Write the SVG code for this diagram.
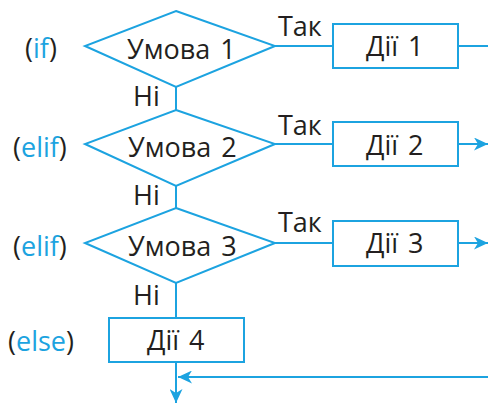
<svg xmlns="http://www.w3.org/2000/svg" width="488" height="403" viewBox="0 0 488 403">
  <style>
    .shape { fill: #ffffff; stroke: #1ca3e0; stroke-width: 2; }
    .line { fill: none; stroke: #1ca3e0; stroke-width: 2; }
    .t { font-family: "Open Sans", "Noto Sans", "DejaVu Sans", sans-serif; font-size: 27px; fill: #231f20; word-spacing: 3px; }
    .k { fill: #1ca3e0; }
  </style>
  <defs>
    <marker id="arrow" viewBox="0 0 14 13" refX="14" refY="6.5" markerWidth="14" markerHeight="13" markerUnits="userSpaceOnUse" orient="auto">
      <path d="M0,0 L14,6.5 L0,13 L4,6.5 Z" fill="#1ca3e0"/>
    </marker>
  </defs>
  <rect width="488" height="403" fill="#ffffff"/>

  <g id="connectors">
    <line class="line" x1="176" y1="87" x2="176" y2="110"/>
    <line class="line" x1="176" y1="186" x2="176" y2="208"/>
    <line class="line" x1="176" y1="283" x2="176" y2="318"/>
    <line class="line" x1="176" y1="362" x2="176" y2="403" marker-end="url(#arrow)"/>
    <line class="line" x1="275" y1="46" x2="333" y2="46"/>
    <line class="line" x1="275" y1="144" x2="333" y2="144"/>
    <line class="line" x1="275" y1="243" x2="333" y2="243"/>
    <line class="line" x1="458" y1="46" x2="488" y2="46"/>
    <line class="line" x1="458" y1="144" x2="488" y2="144" marker-end="url(#arrow)"/>
    <line class="line" x1="458" y1="243" x2="488" y2="243" marker-end="url(#arrow)"/>
    <line class="line" x1="488" y1="377" x2="178" y2="377" marker-end="url(#arrow)"/>
    <text class="t" x="278" y="36">Так</text>
    <text class="t" x="278" y="135">Так</text>
    <text class="t" x="278" y="232">Так</text>
    <text class="t" x="133" y="106">Ні</text>
    <text class="t" x="133" y="205">Ні</text>
    <text class="t" x="133" y="305">Ні</text>
  </g>

  <g id="cond1">
    <polygon class="shape" points="176,11 275,46 176,87 85,46"/>
    <text class="t" x="127" y="59">Умова 1</text>
    <text class="t" x="25" y="58">(<tspan class="k">if</tspan>)</text>
  </g>
  <g id="cond2">
    <polygon class="shape" points="176,110 275,144 176,186 85,144"/>
    <text class="t" x="128" y="157">Умова 2</text>
    <text class="t" x="13" y="157">(<tspan class="k">elif</tspan>)</text>
  </g>
  <g id="cond3">
    <polygon class="shape" points="176,208 275,243 176,283 85,243"/>
    <text class="t" x="128" y="256">Умова 3</text>
    <text class="t" x="13" y="256">(<tspan class="k">elif</tspan>)</text>
  </g>
  <g id="act1">
    <rect class="shape" x="333" y="24" width="125" height="44"/>
    <text class="t" x="366" y="56">Дії 1</text>
  </g>
  <g id="act2">
    <rect class="shape" x="333" y="122" width="125" height="44"/>
    <text class="t" x="366" y="155">Дії 2</text>
  </g>
  <g id="act3">
    <rect class="shape" x="333" y="221" width="125" height="45"/>
    <text class="t" x="366" y="253">Дії 3</text>
  </g>
  <g id="act4">
    <rect class="shape" x="109" y="318" width="135" height="44"/>
    <text class="t" x="147" y="350">Дії 4</text>
    <text class="t" x="8" y="351">(<tspan class="k">else</tspan>)</text>
  </g>
</svg>
